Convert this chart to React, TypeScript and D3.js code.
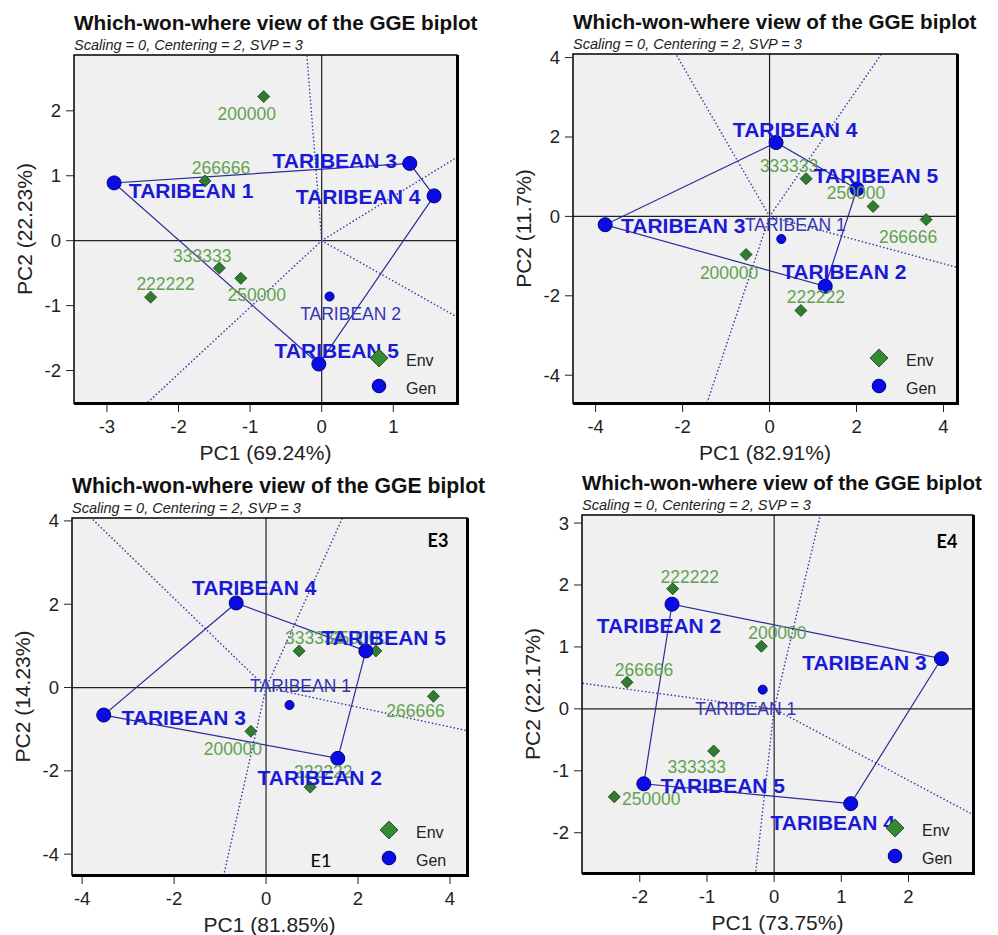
import React from "react";
import * as d3 from "d3";

// genotypes and environments (same order in every panel)
const genNames = ["TARIBEAN 1", "TARIBEAN 2", "TARIBEAN 3", "TARIBEAN 4", "TARIBEAN 5"];
const envNames = ["200000", "222222", "250000", "266666", "333333"];

// panel 1 (top left)
const p1GenPC1 = [-2.9, 0.11, 1.23, 1.57, -0.04];
const p1GenPC2 = [0.89, -0.86, 1.19, 0.69, -1.9];
const p1EnvPC1 = [-0.81, -2.39, -1.13, -1.63, -1.43];
const p1EnvPC2 = [2.22, -0.87, -0.58, 0.92, -0.42];
const p1XTicks = [-3, -2, -1, 0, 1];
const p1YTicks = [-2, -1, 0, 1, 2];

// panel 2 (top right)
const p2GenPC1 = [0.27, 1.28, -3.78, 0.15, 2.01];
const p2GenPC2 = [-0.57, -1.76, -0.21, 1.86, 0.69];
const p2EnvPC1 = [-0.54, 0.72, 2.38, 3.6, 0.84];
const p2EnvPC2 = [-0.96, -2.37, 0.25, -0.08, 0.95];
const p2XTicks = [-4, -2, 0, 2, 4];
const p2YTicks = [-4, -2, 0, 2, 4];

// panel 3 (bottom left)
const p3GenPC1 = [0.51, 1.56, -3.53, -0.65, 2.17];
const p3GenPC2 = [-0.42, -1.7, -0.66, 2.03, 0.88];
const p3EnvPC1 = [-0.33, 0.96, 2.39, 3.64, 0.72];
const p3EnvPC2 = [-1.05, -2.39, 0.88, -0.21, 0.88];
const p3XTicks = [-4, -2, 0, 2, 4];
const p3YTicks = [-4, -2, 0, 2, 4];

// panel 4 (bottom right)
const p4GenPC1 = [-0.17, -1.52, 2.49, 1.14, -1.94];
const p4GenPC2 = [0.31, 1.69, 0.81, -1.53, -1.21];
const p4EnvPC1 = [-0.19, -1.51, -2.38, -2.19, -0.9];
const p4EnvPC2 = [1.01, 1.94, -1.42, 0.43, -0.68];
const p4XTicks = [-2, -1, 0, 1, 2];
const p4YTicks = [-2, -1, 0, 1, 2, 3];

const titleText = "Which-won-where view of the GGE biplot";
const subtitleText = "Scaling = 0, Centering = 2, SVP = 3";

const FONT = "'Liberation Sans', Arial, sans-serif";

const panels = [
  {
    gx: p1GenPC1, gy: p1GenPC2, ex: p1EnvPC1, ey: p1EnvPC2,
    xTicks: p1XTicks, yTicks: p1YTicks,
    xTitle: "PC1 (69.24%)", yTitle: "PC2 (22.23%)",
    box: { left: 74, right: 457, top: 55, bottom: 403 },
    xDomain: [-3.46, 1.89], yDomain: [-2.5, 2.86],
    titleSize: 20.7,
    // label offsets in px: [dx of text centre, dy of baseline]
    genNudge: [[77, 15], [21, 23], [-75, 5], [-76, 8], [18, -6]],
    envNudge: [[-17, 23], [15, -7], [16, 23], [16, -7], [-17, -6]],
    tags: [] as { text: string; bold: boolean; dx: number; dy: number; from: string }[],
  },
  {
    gx: p2GenPC1, gy: p2GenPC2, ex: p2EnvPC1, ey: p2EnvPC2,
    xTicks: p2XTicks, yTicks: p2YTicks,
    xTitle: "PC1 (82.91%)", yTitle: "PC2 (11.7%)",
    box: { left: 573, right: 957, top: 54, bottom: 403 },
    xDomain: [-4.52, 4.31], yDomain: [-4.7, 4.09],
    titleSize: 20.7,
    genNudge: [[14, -8], [19, -7], [78, 8], [19, -6], [19, -6]],
    envNudge: [[-17, 24], [15, -7], [-17, -7], [-18, 23], [-17, -7]],
    tags: [],
  },
  {
    gx: p3GenPC1, gy: p3GenPC2, ex: p3EnvPC1, ey: p3EnvPC2,
    xTicks: p3XTicks, yTicks: p3YTicks,
    xTitle: "PC1 (81.85%)", yTitle: "PC2 (14.23%)",
    box: { left: 72, right: 467, top: 518, bottom: 875 },
    xDomain: [-4.22, 4.37], yDomain: [-4.5, 4.07],
    titleSize: 21.2,
    genNudge: [[11, -13], [-18, 27], [80, 10], [18, -8], [18, -6]],
    envNudge: [[-18, 24], [13, -9], [-17, -7], [-18, 21], [15, -7]],
    tags: [
      { text: "E3", bold: true, dx: -29, dy: 29, from: "top" },
      { text: "E1", bold: false, dx: -146, dy: -8, from: "bottom" },
    ],
  },
  {
    gx: p4GenPC1, gy: p4GenPC2, ex: p4EnvPC1, ey: p4EnvPC2,
    xTicks: p4XTicks, yTicks: p4YTicks,
    xTitle: "PC1 (73.75%)", yTitle: "PC2 (22.17%)",
    box: { left: 582, right: 973, top: 515, bottom: 873 },
    xDomain: [-2.86, 2.96], yDomain: [-2.65, 3.13],
    titleSize: 20.5,
    genNudge: [[-17, 25], [-13, 29], [-77, 11], [-18, 26], [79, 9]],
    envNudge: [[16, -7], [17, -6], [37, 8], [17, -6], [-17, 22]],
    tags: [{ text: "E4", bold: true, dx: -26, dy: 33, from: "top" }],
  },
];

function diamond(cx: number, cy: number, h: number) {
  return `M${cx},${cy - h}L${cx + h},${cy}L${cx},${cy + h}L${cx - h},${cy}Z`;
}

function Biplot({ p, idx }: { p: any; idx: number }) {
  const { left, right, top, bottom } = p.box;
  const x = d3.scaleLinear().domain(p.xDomain).range([left, right]);
  const y = d3.scaleLinear().domain(p.yDomain).range([bottom, top]);

  const gens = genNames.map((n, i) => ({ name: n, pc1: p.gx[i], pc2: p.gy[i], nudge: p.genNudge[i] }));
  const envs = envNames.map((n, i) => ({ name: n, pc1: p.ex[i], pc2: p.ey[i], nudge: p.envNudge[i] }));

  const hull = d3.polygonHull(gens.map((g) => [g.pc1, g.pc2] as [number, number])) || [];
  const onHull = (g: any) => hull.some((h) => h[0] === g.pc1 && h[1] === g.pc2);

  // perpendiculars from origin to each hull side
  const rays = hull.map((a, i) => {
    const b = hull[(i + 1) % hull.length];
    const dx = b[0] - a[0];
    const dy = b[1] - a[1];
    const t = -(a[0] * dx + a[1] * dy) / (dx * dx + dy * dy);
    const fx = a[0] + t * dx;
    const fy = a[1] + t * dy;
    return [fx * 60, fy * 60];
  });

  const hullPath = d3.line()(hull.map((h) => [x(h[0]), y(h[1])] as [number, number])) + "Z";
  const clipId = `clip-${idx}`;
  const midX = (left + right) / 2;
  const midY = (top + bottom) / 2;

  return (
    <g fontFamily={FONT}>
      <defs>
        <clipPath id={clipId}>
          <rect x={left} y={top} width={right - left} height={bottom - top} />
        </clipPath>
      </defs>
      <text x={left} y={top - 25} fontSize={p.titleSize} fontWeight="bold" fill="#111">{titleText}</text>
      <text x={left} y={top - 5.5} fontSize={14.5} fontStyle="italic" fill="#222">{subtitleText}</text>

      <rect x={left} y={top} width={right - left} height={bottom - top} fill="#f0f0f0" />

      <g clipPath={`url(#${clipId})`}>
        <line x1={x(0)} x2={x(0)} y1={top} y2={bottom} stroke="#222" strokeWidth={1.2} />
        <line x1={left} x2={right} y1={y(0)} y2={y(0)} stroke="#222" strokeWidth={1.2} />
        {rays.map((r, i) => (
          <line key={i} x1={x(0)} y1={y(0)} x2={x(r[0])} y2={y(r[1])}
            stroke="#3c3ca8" strokeWidth={1.6} strokeDasharray="0.1 3.6" strokeLinecap="round" />
        ))}
        <path d={hullPath} fill="none" stroke="#2b2b9a" strokeWidth={1.2} />
      </g>

      {envs.map((e) => (
        <path key={e.name} d={diamond(x(e.pc1), y(e.pc2), 6)} fill="#2f7d2f" stroke="#1c3a1c" strokeWidth={0.8} />
      ))}
      {gens.map((g) => (
        <circle key={g.name} cx={x(g.pc1)} cy={y(g.pc2)} r={onHull(g) ? 7 : 4.5}
          fill="#0b0be6" stroke="#00007a" strokeWidth={1} />
      ))}
      {envs.map((e) => (
        <text key={e.name} x={x(e.pc1) + e.nudge[0]} y={y(e.pc2) + e.nudge[1]} textAnchor="middle"
          fontSize={17.5} fill="#62a252">{e.name}</text>
      ))}
      {gens.map((g) => {
        const big = onHull(g);
        return (
          <text key={g.name} x={x(g.pc1) + g.nudge[0]} y={y(g.pc2) + g.nudge[1]} textAnchor="middle"
            fontSize={big ? 21 : 17.5} fontWeight={big ? "bold" : "normal"} fill={big ? "#1a1ad6" : "#3535b5"}>
            {g.name}
          </text>
        );
      })}

      {/* legend */}
      <path d={diamond(right - 78, bottom - 45, 9)} fill="#338a33" stroke="#1c3a1c" strokeWidth={0.8} />
      <text x={right - 51} y={bottom - 37} fontSize={16} fill="#222">Env</text>
      <circle cx={right - 78} cy={bottom - 17} r={6.8} fill="#0b0be6" stroke="#00007a" strokeWidth={1} />
      <text x={right - 51} y={bottom - 9} fontSize={16} fill="#222">Gen</text>

      {p.tags.map((t: any) => (
        <text key={t.text} x={right + t.dx} y={(t.from === "top" ? top : bottom) + t.dy} textAnchor="middle"
          fontFamily="Lato, 'Open Sans', sans-serif" fontSize={18} fontWeight={t.bold ? "bold" : "normal"} fill="#000">
          {t.text}
        </text>
      ))}

      {/* frame */}
      <rect x={left} y={top} width={right - left} height={bottom - top} fill="none" stroke="#000" strokeWidth={1.5} />
      <line x1={right + 0.5} x2={right + 0.5} y1={top} y2={bottom + 1.5} stroke="#000" strokeWidth={3} />
      <line x1={left} x2={right + 2} y1={bottom + 0.5} y2={bottom + 0.5} stroke="#000" strokeWidth={3} />

      {/* axes */}
      {p.xTicks.map((t: number) => (
        <g key={`x${t}`}>
          <line x1={x(t)} x2={x(t)} y1={bottom + 2} y2={bottom + 9} stroke="#222" strokeWidth={1} />
          <text x={x(t)} y={bottom + 30} textAnchor="middle" fontSize={18.5} fill="#222">{t}</text>
        </g>
      ))}
      {p.yTicks.map((t: number) => (
        <g key={`y${t}`}>
          <line x1={left - 8} x2={left} y1={y(t)} y2={y(t)} stroke="#222" strokeWidth={1} />
          <text x={left - 13} y={y(t) + 6.5} textAnchor="end" fontSize={18.5} fill="#222">{t}</text>
        </g>
      ))}
      <text x={midX} y={bottom + 57} textAnchor="middle" fontSize={21} fill="#222">{p.xTitle}</text>
      <text transform={`translate(${left - 42},${midY}) rotate(-90)`} textAnchor="middle" fontSize={21} fill="#222">
        {p.yTitle}
      </text>
    </g>
  );
}

export default function App() {
  return (
    <svg width={998} height={935} style={{ position: "absolute", left: 0, top: 0, background: "#fff" }}>
      <rect width={998} height={935} fill="#fff" />
      {panels.map((p, i) => (
        <Biplot key={i} p={p} idx={i} />
      ))}
    </svg>
  );
}
